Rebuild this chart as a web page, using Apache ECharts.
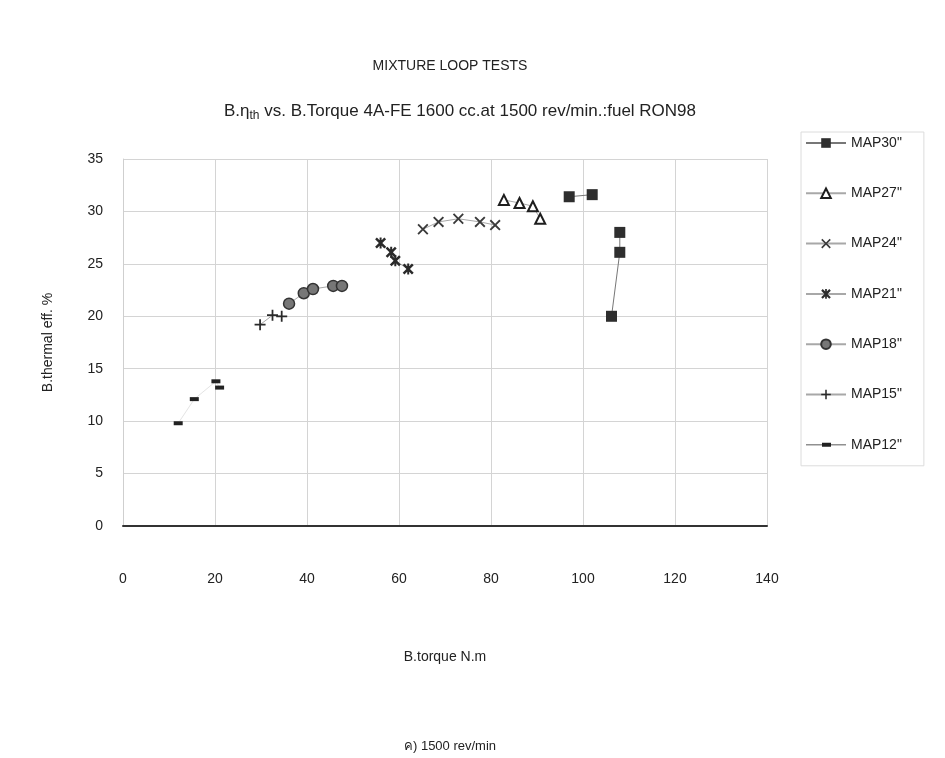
<!DOCTYPE html>
<html>
<head>
<meta charset="utf-8">
<style>
  html, body { margin: 0; padding: 0; background: #fff; }
  #chart { width: 945px; height: 758px; }
</style>
<script src="https://cdn.jsdelivr.net/npm/echarts@6/dist/echarts.min.js"></script>
</head>
<body>
<div id="chart"></div>
<script>
  // torque (N.m) / brake thermal efficiency (%) per MAP setting
  // null = break in the drawn line, as in the original plot
  var map30Torque = [97, 102, null, 108, 108, 106.2];
  var map30Eff    = [31.4, 31.6, null, 28.0, 26.1, 20.0];
  var map27Torque = [82.8, 86.2, 89.1, 90.7];
  var map27Eff    = [31.1, 30.8, 30.5, 29.3];
  var map24Torque = [65.2, 68.6, 72.9, 77.6, 80.9];
  var map24Eff    = [28.3, 29.0, 29.3, 29.0, 28.7];
  var map21Torque = [56, 58.3, 59.2, 62];
  var map21Eff    = [27.0, 26.1, 25.3, 24.5];
  var map18Torque = [36.1, 39.3, 41.3, 45.7, 47.6];
  var map18Eff    = [21.2, 22.2, 22.6, 22.9, 22.9];
  var map15Torque = [29.8, 32.5, 34.5];
  var map15Eff    = [19.2, 20.1, 20.0];
  var map12Torque = [12, 15.5, 20.2, 21];
  var map12Eff    = [9.8, 12.1, 13.8, 13.2];

  var xTicks = [0, 20, 40, 60, 80, 100, 120, 140];
  var yTicks = [0, 5, 10, 15, 20, 25, 30, 35];

  var chart = echarts.init(document.getElementById('chart'));

  function pairs(xs, ys) {
    var out = [];
    for (var i = 0; i < xs.length; i++) {
      out.push(xs[i] == null ? [null, null] : [xs[i], ys[i]]);
    }
    return out;
  }

  var crossX = 'path://M0,1.2L1.2,0L5,3.8L8.8,0L10,1.2L6.2,5L10,8.8L8.8,10L5,6.2L1.2,10L0,8.8L3.8,5Z';
  var plus = 'path://M4.2,0L5.8,0L5.8,4.2L10,4.2L10,5.8L5.8,5.8L5.8,10L4.2,10L4.2,5.8L0,5.8L0,4.2L4.2,4.2Z';
  var star = 'path://M0,1.6L1.6,0L5,3.4L8.4,0L10,1.6L6.6,5L10,8.4L8.4,10L5,6.6L1.6,10L0,8.4L3.4,5Z' +
             'M4.1,0L5.9,0L5.9,10L4.1,10Z';
  var dashIcon = 'path://M0,4.6L40,4.6L40,5.4L0,5.4Z M16,3L25,3L25,7L16,7Z';

  function mk(name, xs, ys, symbol, size, itemStyle, lineColor) {
    return {
      name: name,
      type: 'line',
      data: pairs(xs, ys),
      symbol: symbol,
      symbolSize: size,
      showSymbol: true,
      connectNulls: false,
      color: '#2b2b2b',
      lineStyle: { color: lineColor || '#a8a8a8', width: 1 },
      itemStyle: itemStyle,
      emphasis: { disabled: true },
      z: 3
    };
  }

  chart.setOption({
    backgroundColor: '#fff',
    animation: false,
    textStyle: { fontFamily: 'Liberation Sans' },
    title: [{
      text: 'MIXTURE LOOP TESTS',
      left: 445, top: 54, textAlign: 'center',
      textStyle: { fontSize: 14, fontWeight: 'normal', color: '#222' }
    }, {
      text: '{n|B.\u03b7}{sub|th}{n| vs. B.Torque 4A-FE 1600 cc.at 1500 rev/min.:fuel RON98}',
      left: 455, top: 96, textAlign: 'center',
      textStyle: {
        fontWeight: 'normal',
        rich: {
          n: { fontSize: 17, color: '#222', fontWeight: 'normal' },
          sub: { fontSize: 12, color: '#222', fontWeight: 'normal', verticalAlign: 'bottom', padding: [9, 0, 0, 0] }
        }
      }
    }, {
      text: '\u0e04) 1500 rev/min',
      left: 445, top: 735, textAlign: 'center',
      textStyle: { fontSize: 13, fontWeight: 'normal', color: '#222' }
    }],
    legend: {
      orient: 'vertical',
      left: 801, top: 132,
      itemWidth: 40, itemHeight: 12,
      itemGap: 36.3,
      padding: [4, 22, 14, 4],
      borderColor: '#dcdcdc', borderWidth: 1,
      textStyle: { fontSize: 14, color: '#222' },
      data: ['MAP30"', 'MAP27"', 'MAP24"', 'MAP21"', 'MAP18"', 'MAP15"',
             { name: 'MAP12"', icon: dashIcon }]
    },
    grid: { left: 123, right: 178, top: 159, bottom: 232 },
    xAxis: {
      type: 'value', min: xTicks[0], max: xTicks[xTicks.length - 1], interval: 20,
      name: 'B.torque N.m', nameLocation: 'middle', nameGap: 124,
      nameTextStyle: { fontSize: 14, color: '#222' },
      axisLine: { onZero: false, lineStyle: { color: '#333', width: 2 } },
      axisTick: { show: false },
      axisLabel: { margin: 46, fontSize: 14, color: '#222' },
      splitLine: { show: true, lineStyle: { color: '#d4d4d4', width: 1 } }
    },
    yAxis: {
      type: 'value', min: yTicks[0], max: yTicks[yTicks.length - 1], interval: 5,
      name: 'B.thermal eff. %', nameLocation: 'middle', nameGap: 68,
      nameTextStyle: { fontSize: 14, color: '#222' },
      axisLine: { show: true, lineStyle: { color: '#cfcfcf' } },
      axisTick: { show: false },
      axisLabel: { margin: 20, fontSize: 14, color: '#222' },
      splitLine: { show: true, lineStyle: { color: '#d4d4d4', width: 1 } }
    },
    series: [
      mk('MAP30"', map30Torque, map30Eff, 'rect', 11, { color: '#2e2e2e' }, '#777'),
      mk('MAP27"', map27Torque, map27Eff, 'triangle', 10, { color: '#fff', borderColor: '#1e1e1e', borderWidth: 2 }),
      mk('MAP24"', map24Torque, map24Eff, crossX, 11, { color: '#3a3a3a' }),
      mk('MAP21"', map21Torque, map21Eff, star, 11, { color: '#2a2a2a' }),
      mk('MAP18"', map18Torque, map18Eff, 'circle', 11, { color: '#777', borderColor: '#333', borderWidth: 1.5 }),
      mk('MAP15"', map15Torque, map15Eff, plus, 11, { color: '#2a2a2a' }),
      mk('MAP12"', map12Torque, map12Eff, 'rect', [9, 4], { color: '#222' }, '#e4e4e4')
    ]
  });
</script>
</body>
</html>
